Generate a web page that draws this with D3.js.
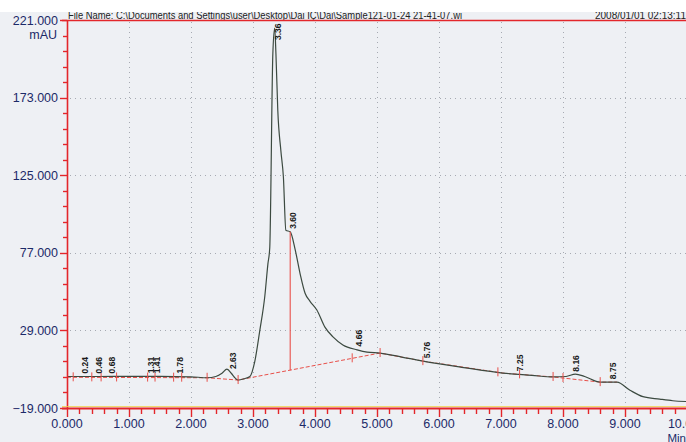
<!DOCTYPE html>
<html><head><meta charset="utf-8">
<script src="https://cdn.jsdelivr.net/npm/d3@7"></script>
<style>html,body{margin:0;padding:0;background:#fff;}svg{display:block;}</style>
</head><body>
<script>
// ---- data ----
const headerLeft = "File Name: C:\\Documents and Settings\\user\\Desktop\\Dai IÇ\\Dai\\Sample121-01-24 21-41-07.wi";
const headerRight = "2008/01/01 02:13:11";
const yUnit = "mAU";
const xUnit = "Min";
const yTicks = [221, 173, 125, 77, 29, -19];
const xTicks = [0,1,2,3,4,5,6,7,8,9,10];
const times  = [0,0.5,1.0,1.5,2.0,2.26,2.4,2.5,2.58,2.65,2.7,2.76,2.85,2.95,3.03,3.11,3.19,3.24,3.27,3.32,3.35,3.37,3.40,3.45,3.49,3.53,3.60,3.68,3.76,3.84,3.92,4.03,4.16,4.29,4.45,4.68,4.84,5.05,5.4,5.74,6.4,7.03,7.5,7.84,8.05,8.2,8.35,8.6,8.87,9.08,9.29,9.56,9.77,10.0];
const values = [0.5,0.5,0.6,0.6,0.3,-0.3,0.5,2.5,5,2.5,0,-1.7,-1,0.5,10,29,50,70,80,200,216,200,165,140,124,91,90,79,64,52,47,41.6,31,25,20,17,15.6,15,12.5,10,6,2.6,1.2,0.2,0.5,2,0.5,-3,-3,-8,-12,-13.5,-14.5,-15];
const peakTimes  = [0.24,0.46,0.68,1.31,1.41,1.78,2.63,3.36,3.60,4.66,5.76,7.25,8.16,8.75];
const peakLabels = ["0.24","0.46","0.68","1.31","1.41","1.78","2.63","3.36","3.60","4.66","5.76","7.25","8.16","8.75"];
const baseT = [0, 2.26, 2.76, 5.05, 5.74, 7.03, 7.84, 8.6, 8.87];
const baseV = [0, -0.3, -1.7, 15, 10, 2.6, 0.2, -3, -3];
const markTimes = [0.1,0.4,0.55,0.8,1.3,1.42,1.72,1.85,2.26,2.76,4.6,5.05,5.74,6.95,7.3,7.84,8.0,8.6];
const dropTimes = [3.60];

// ---- layout ----
const W = 686, H = 442;
const x = d3.scaleLinear().domain([0,10]).range([67,687]);
const y = d3.scaleLinear().domain([-19,221]).range([408,20]);
const FONT = "Liberation Sans, Arial, sans-serif";

const svg = d3.select("body").append("svg").attr("width",W).attr("height",H);
svg.append("rect").attr("width",W).attr("height",H).attr("fill","#eef0f4");

const curveAt = t => { const i = d3.bisectLeft(times,t); if(i<=0) return values[0]; if(i>=times.length) return values[values.length-1];
  const t0=times[i-1],t1=times[i]; return values[i-1]+(values[i]-values[i-1])*(t-t0)/(t1-t0); };
const baseAt = t => { const i = d3.bisectLeft(baseT,t); if(i<=0) return baseV[0]; if(i>=baseT.length) return baseV[baseV.length-1];
  const t0=baseT[i-1],t1=baseT[i]; return baseV[i-1]+(baseV[i]-baseV[i-1])*(t-t0)/(t1-t0); };

// grid (dotted)
const grid = svg.append("g").attr("stroke","#8e939c").attr("stroke-width",1).attr("stroke-dasharray","1,4").attr("opacity",0.75);
xTicks.filter(d=>d>0&&d<10).forEach(d=>grid.append("line").attr("x1",x(d)+0.5).attr("x2",x(d)+0.5).attr("y1",22).attr("y2",406));
yTicks.filter(d=>d>-19&&d<221).forEach(d=>grid.append("line").attr("x1",70).attr("x2",686).attr("y1",Math.round(y(d))+0.5).attr("y2",Math.round(y(d))+0.5));

// header
svg.append("text").attr("x",68).attr("y",19).attr("font-family",FONT).attr("font-size",10)
  .attr("fill","#222").attr("textLength",394).attr("lengthAdjust","spacingAndGlyphs").text(headerLeft);
svg.append("text").attr("x",686).attr("y",19).attr("text-anchor","end").attr("font-family",FONT).attr("font-size",10)
  .attr("fill","#222").text(headerRight);
svg.append("rect").attr("width",W).attr("height",12).attr("fill","#ffffff");
svg.append("line").attr("x1",62).attr("x2",686).attr("y1",20.5).attr("y2",20.5).attr("stroke","#e3262b").attr("stroke-width",1.6);

// baseline (integration) red dashed
const lineFn = d3.line().x(d=>x(d[0])).y(d=>y(d[1]));
svg.append("path").attr("d",lineFn(baseT.map((t,i)=>[t,baseV[i]]))).attr("fill","none")
  .attr("stroke","#e8504a").attr("stroke-width",1).attr("stroke-dasharray","4,2");

// chromatogram curve
svg.append("path").attr("d",d3.line().x(d=>x(d[0])).y(d=>y(d[1])).curve(d3.curveMonotoneX)(times.map((t,i)=>[t,values[i]])))
  .attr("fill","none").attr("stroke","#3c4a40").attr("stroke-width",1.2);

// drop lines
dropTimes.forEach(t=>svg.append("line").attr("x1",x(t)).attr("x2",x(t)).attr("y1",y(curveAt(t))).attr("y2",y(baseAt(t)))
  .attr("stroke","#e8504a").attr("stroke-width",1.1));

// boundary marks
markTimes.forEach(t=>{ const yy=y(baseAt(t)); svg.append("line").attr("x1",x(t)).attr("x2",x(t)).attr("y1",yy-5).attr("y2",yy+4)
  .attr("stroke","#e8504a").attr("stroke-width",1); });

// peak labels
peakTimes.forEach((t,i)=>{ let yy = y(curveAt(t))-3; if (yy<40) yy=40;
  svg.append("text").attr("transform",`translate(${x(t)+6},${yy}) rotate(-90)`).attr("font-family",FONT)
    .attr("font-size",8.5).attr("font-weight","bold").attr("fill","#1a1a1a").text(peakLabels[i]); });

// y axis
const ax = svg.append("g").attr("stroke","#e3262b");
ax.append("line").attr("x1",67.5).attr("x2",67.5).attr("y1",20).attr("y2",409).attr("stroke-width",1.6);
d3.range(-19, 221.01, 9.6).forEach(v=>{ const major = yTicks.some(m=>Math.abs(m-v)<0.01);
  ax.append("line").attr("x1",major?60:63).attr("x2",67).attr("y1",Math.round(y(v))+0.5).attr("y2",Math.round(y(v))+0.5).attr("stroke-width",1.4); });
yTicks.forEach(v=>svg.append("text").attr("x",58).attr("y",y(v)+4.5).attr("text-anchor","end").attr("font-family",FONT)
  .attr("font-size",12.5).attr("fill","#1c2a68").text(d3.format(".3f")(v)));
svg.append("text").attr("x",57).attr("y",39).attr("text-anchor","end").attr("font-family",FONT)
  .attr("font-size",12.5).attr("fill","#1c2a68").text(yUnit);

// x axis
svg.append("line").attr("x1",62).attr("x2",686).attr("y1",406.5).attr("y2",406.5).attr("stroke","#f2d34a").attr("stroke-width",1).attr("opacity",0.8);
ax.append("line").attr("x1",62).attr("x2",686).attr("y1",408.5).attr("y2",408.5).attr("stroke-width",1.8);
d3.range(0,10.01,0.2).forEach(t=>{ const major = Math.abs(t-Math.round(t))<0.001;
  ax.append("line").attr("x1",Math.round(x(t))+0.5).attr("x2",Math.round(x(t))+0.5).attr("y1",408).attr("y2",major?417:414).attr("stroke-width",1.4); });
xTicks.forEach(t=>svg.append("text").attr("x",x(t)).attr("y",428).attr("text-anchor","middle").attr("font-family",FONT)
  .attr("font-size",12.5).attr("fill","#1c2a68").text(d3.format(".3f")(t)));
svg.append("text").attr("x",686).attr("y",441.5).attr("text-anchor","end").attr("font-family",FONT)
  .attr("font-size",11.5).attr("fill","#1c2a68").text(xUnit);
</script>
</body></html>
